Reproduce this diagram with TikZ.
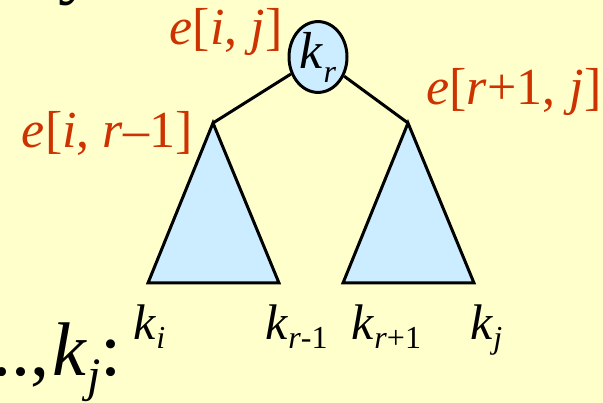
\documentclass[tikz,border=0pt]{standalone}
\usepackage{fontspec}
\setmainfont{Liberation Serif}
\usetikzlibrary{shapes.geometric}
\definecolor{folie}{HTML}{FFFFCC}
\definecolor{hblau}{HTML}{CCECFF}
\definecolor{rotbr}{HTML}{CC3300}
\newcommand\tief[2][9pt]{\raisebox{-#1}{\fontsize{32}{32}\selectfont #2}}
\begin{document}
\begin{tikzpicture}[x=1pt,y=-1pt,line width=3pt,
  teil/.style={fill=hblau},
  elab/.style={text=rotbr,inner sep=0pt,font=\fontsize{52}{54}\selectfont},
  klab/.style={inner sep=0pt,anchor=base west,font=\fontsize{50}{52}\selectfont},
  gross/.style={inner sep=0pt,font=\fontsize{76}{80}\selectfont}]
% Folie
\useasboundingbox (0,0) rectangle (603,403);
\fill[folie] (0,0) rectangle (603,403);
\clip (0,0) rectangle (603,403);
% Reste vom Folientext
\node[gross,anchor=base west] (ypart) at (57,-10) {y};
\node[gross,anchor=base east] (pkt) at (51,376) {...,};
\node[gross,anchor=base west] (kgross) at (pkt.base east) {\textit{k}\raisebox{-16pt}{\fontsize{48}{48}\selectfont\textit{j}}:};
% Wurzel
\node[ellipse,draw,fill=hblau,minimum width=58pt,minimum height=64pt,inner sep=0pt,
  font=\fontsize{52}{54}\selectfont] (kr) at (318,57) {\textit{k}\tief[14pt]{\textit{r}}};
\coordinate (lspitze) at (213,123);
\coordinate (rspitze) at (408,123);
\draw (kr) -- (lspitze);
\draw (kr) -- (rspitze);
% Teilbaeume
\draw[teil] (lspitze) -- (148,283) -- (279,283) -- cycle;
\draw[teil] (rspitze) -- (343,283) -- (474,283) -- cycle;
% Kosten
\node[elab,anchor=base east] (eij) at (284,45) {\textit{e}[\textit{i}, \textit{j}]};
\node[elab,anchor=base east] (eir) at (194,148) {\textit{e}[\textit{i}, \textit{r}–1]};
\node[elab,anchor=base west] (erj) at (425,105) {\textit{e}[\textit{r}+1,\hspace{14pt}\textit{j}]};
% Schluessel
\node[klab] (ki) at (132,340) {\textit{k}\tief{\textit{i}}};
\node[klab] (kra) at (264,340) {\textit{k}\tief{\textit{r}-1}};
\node[klab] (krb) at (350,340) {\textit{k}\tief{\textit{r}+1}};
\node[klab] (kj) at (469,340) {\textit{k}\tief{\textit{j}}};
\end{tikzpicture}
\end{document}
